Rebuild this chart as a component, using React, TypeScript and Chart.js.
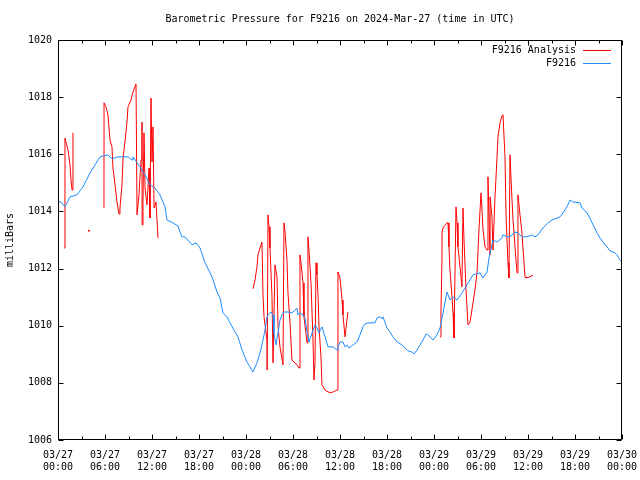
import React, { useEffect, useRef } from 'react';
import { Chart, registerables } from 'chart.js';

Chart.register(...registerables);

const TITLE = 'Barometric Pressure for F9216 on 2024-Mar-27 (time in UTC)';
const Y_TITLE = 'milliBars';
const ANALYSIS_LABEL = 'F9216 Analysis';
const STATION_LABEL = 'F9216';

// x tick labels, one per 6 hours from 03/27 00:00 UTC
const X_TICK_LABELS: string[][] = [
  ['03/27', '00:00'], ['03/27', '06:00'], ['03/27', '12:00'], ['03/27', '18:00'],
  ['03/28', '00:00'], ['03/28', '06:00'], ['03/28', '12:00'], ['03/28', '18:00'],
  ['03/29', '00:00'], ['03/29', '06:00'], ['03/29', '12:00'], ['03/29', '18:00'],
  ['03/30', '00:00'],
];
const X_MAX_HOURS = 72;
const Y_MIN = 1006;
const Y_MAX = 1020;
const Y_STEP = 2;

// Station F9216 observations: hours since 03/27 00:00 UTC, pressure (mb)
const stationHours = [
  0.00, 0.38, 0.89, 1.53, 2.43, 3.19, 4.09, 5.36, 6.38, 6.89, 7.66, 8.94, 9.45, 9.57,
  10.47, 11.11, 11.74, 12.38, 13.02, 13.66, 13.91, 14.68, 15.32, 15.57, 15.83, 16.21,
  17.11, 17.62, 18.13, 18.77, 19.66, 20.30, 20.68, 21.06, 21.57, 21.96, 22.60, 22.98,
  23.49, 24.13, 24.51, 24.89, 25.40, 25.79, 26.17, 26.43, 26.68, 26.81, 27.19, 27.45,
  27.57, 27.83, 28.09, 28.34, 28.60, 28.85, 29.36, 29.87, 30.26, 30.51, 30.64, 30.89,
  31.28, 31.53, 31.79, 32.04, 32.43, 32.81, 33.06, 33.32, 33.70, 33.83, 34.21, 34.47,
  35.11, 35.62, 35.74, 36.00, 36.38, 36.64, 36.89, 37.15, 37.66, 38.17, 38.55, 38.94,
  39.19, 39.57, 40.47, 40.72, 41.11, 41.36, 41.49, 42.00, 42.38, 42.77, 43.28, 43.91,
  44.30, 44.68, 45.19, 45.45, 45.83, 46.21, 46.60, 46.98, 47.23, 47.62, 47.87, 48.38,
  48.77, 49.15, 49.66, 50.04, 50.43, 50.94, 51.57, 52.21, 52.98, 53.87, 54.26, 54.77,
  55.02, 55.53, 56.04, 56.68, 56.81, 57.32, 57.70, 58.34, 58.72, 59.23, 59.87, 60.51,
  60.89, 61.28, 61.91, 62.55, 63.06, 64.09, 64.47, 64.98, 65.36, 65.74, 66.64, 66.89,
  67.53, 67.91, 68.30, 68.81, 69.19, 69.57, 70.09, 70.47, 71.11, 71.36, 71.74, 72.00,
];
const stationPressure = [
  1014.35, 1014.33, 1014.16, 1014.51, 1014.58, 1014.86, 1015.35, 1015.91, 1015.98, 1015.84, 1015.91, 1015.91, 1015.80, 1015.91,
  1015.56, 1015.28, 1014.93, 1014.82, 1014.58, 1014.16, 1013.70, 1013.60, 1013.49, 1013.28, 1013.11, 1013.11,
  1012.83, 1012.90, 1012.72, 1012.20, 1011.71, 1011.18, 1010.97, 1010.45, 1010.31, 1010.10, 1009.78, 1009.61,
  1009.15, 1008.73, 1008.56, 1008.38, 1008.70, 1009.05, 1009.50, 1009.85, 1010.31, 1010.38, 1010.48, 1010.38,
  1009.75, 1009.33, 1009.75, 1010.20, 1010.38, 1010.48, 1010.48, 1010.45, 1010.55, 1010.62, 1010.38, 1010.45,
  1010.38, 1010.27, 1009.78, 1009.43, 1009.75, 1010.03, 1009.92, 1009.75, 1009.96, 1009.85, 1009.50, 1009.26,
  1009.26, 1009.15, 1009.26, 1009.43, 1009.43, 1009.26, 1009.33, 1009.22, 1009.33, 1009.43, 1009.68, 1009.96,
  1010.06, 1010.10, 1010.10, 1010.27, 1010.31, 1010.24, 1010.31, 1009.92, 1009.78, 1009.61, 1009.43, 1009.33,
  1009.22, 1009.12, 1009.08, 1009.01, 1009.15, 1009.33, 1009.50, 1009.71, 1009.68, 1009.57, 1009.50, 1009.68,
  1009.92, 1010.45, 1011.18, 1010.90, 1011.01, 1010.90, 1011.15, 1011.43, 1011.78, 1011.85, 1011.67, 1011.88,
  1012.37, 1013.00, 1012.93, 1013.07, 1013.18, 1013.11, 1013.11, 1013.28, 1013.25, 1013.11, 1013.11, 1013.18,
  1013.11, 1013.18, 1013.42, 1013.60, 1013.70, 1013.81, 1013.95, 1014.16, 1014.40, 1014.33, 1014.30, 1014.12,
  1013.95, 1013.77, 1013.53, 1013.25, 1013.07, 1012.93, 1012.76, 1012.62, 1012.55, 1012.48, 1012.30, 1012.23,
];

// F9216 Analysis: hours since 03/27 00:00 UTC, pressure (mb); null = no data (gap)
const analysisHours = [
  0.77, 0.89, 1.02, 1.28, 1.53, 1.66, 1.79, 1.91,
  2.50,
  3.96,
  4.50,
  5.87, 5.88, 6.13, 6.38, 6.64, 6.89, 7.02, 7.28, 7.53, 7.79, 7.91, 8.17, 8.30, 8.55,
  8.81, 8.94, 9.32, 9.57, 9.96, 10.09, 10.34, 10.60, 10.72, 10.74, 10.85, 10.98, 11.11,
  11.36, 11.62, 11.74, 11.87, 12.00, 12.13, 12.26, 12.51, 12.77,
  18.00,
  24.89, 25.15, 25.40, 25.53, 25.79, 26.04, 26.17, 26.30, 26.68, 26.70, 26.81, 26.94,
  27.06, 27.32, 27.45, 27.70, 27.96, 28.09, 28.34, 28.72, 28.85, 28.98, 29.23, 29.36,
  29.62, 29.87, 30.51, 30.77, 30.89, 31.02, 31.28, 31.40, 31.79, 31.91, 32.04, 32.30,
  32.55, 32.68, 32.81, 32.94, 33.06, 33.19, 33.32, 33.57, 33.70, 34.09, 34.72, 35.11,
  35.62, 35.74, 36.00, 36.26, 36.38, 36.64, 36.89, 37.02,
  42.00,
  48.77, 48.89, 49.02, 49.03, 49.15, 49.66, 49.79, 49.91, 50.04, 50.30, 50.43, 50.55,
  50.81, 50.94, 51.06, 51.32, 51.57, 51.70, 51.83, 52.09, 52.34, 52.60, 53.23, 53.49,
  53.74, 54.00, 54.13, 54.26, 54.51, 54.77, 54.89, 55.15, 55.16, 55.40, 55.53, 55.79,
  56.04, 56.17, 56.43, 56.68, 56.81, 57.06, 57.19, 57.32, 57.45, 57.57, 57.70, 57.96,
  58.09, 58.47, 58.60, 58.72, 58.98, 59.23, 59.36, 59.62, 59.74, 60.26, 60.64,
];
const analysisPressure: (number | null)[] = [
  1012.72, 1016.57, 1016.43, 1016.15, 1015.63, 1015.10, 1014.75, 1016.75,
  null,
  1013.32,
  null,
  1014.12, 1017.80, 1017.66, 1017.38, 1016.50, 1016.26, 1015.52, 1014.93, 1014.33, 1013.91, 1014.12, 1014.93, 1015.87, 1016.43,
  1017.13, 1017.66, 1017.90, 1018.18, 1018.46, 1013.88, 1014.58, 1015.80, 1017.13, 1013.53, 1014.40, 1016.75, 1014.82,
  1014.23, 1015.52, 1013.77, 1017.97, 1015.73, 1016.96, 1014.12, 1014.33, 1013.07,
  null,
  1011.29, 1011.60, 1012.06, 1012.48, 1012.72, 1012.93, 1011.08, 1010.31, 1009.50, 1008.45, 1013.88, 1013.46,
  1012.72, 1011.01, 1008.70, 1012.13, 1011.71, 1009.96, 1009.26, 1008.63, 1013.60, 1013.28, 1012.30, 1011.15,
  1010.10, 1008.80, 1008.63, 1008.52, 1012.48, 1012.20, 1011.50, 1010.31, 1009.40, 1013.11, 1012.65, 1011.50,
  1009.50, 1008.10, 1008.70, 1012.20, 1011.78, 1011.08, 1009.96, 1008.91, 1007.93, 1007.75, 1007.65, 1007.68,
  1007.75, 1011.88, 1011.67, 1010.90, 1010.38, 1009.61, 1010.20, 1010.48,
  null,
  1009.61, 1010.55, 1012.37, 1013.28, 1013.42, 1013.60, 1013.60, 1012.76, 1011.95, 1011.01, 1010.45, 1009.57,
  1014.16, 1013.60, 1012.76, 1012.06, 1011.36, 1014.12, 1013.00, 1011.25, 1010.03, 1010.13, 1011.25, 1011.85,
  1013.35, 1014.65, 1014.05, 1013.35, 1012.76, 1012.65, 1015.21, 1012.48, 1014.51, 1013.81, 1012.65, 1014.51,
  1015.87, 1016.61, 1017.10, 1017.34, 1017.38, 1015.91, 1013.95, 1013.00, 1012.20, 1011.67, 1015.98, 1014.40,
  1013.70, 1012.30, 1011.85, 1014.58, 1013.88, 1013.25, 1012.72, 1011.71, 1011.67, 1011.71, 1011.78,
];

const ANALYSIS_COLOR = '#ff0000';
const STATION_COLOR = '#1a8cff';
const FONT_FAMILY = "'DejaVu Sans Mono', 'Liberation Mono', monospace";

const frameAndTicks = {
  id: 'frameAndTicks',
  afterDatasetsDraw(chart: any) {
    const { ctx, chartArea: a, scales } = chart;
    const xs = scales.x;
    const ys = scales.y;
    ctx.save();
    ctx.strokeStyle = '#000';
    ctx.lineWidth = 1;
    ctx.beginPath();
    const L = Math.round(a.left) + 0.5;
    const R = Math.round(a.right) - 0.5;
    const T = Math.round(a.top) + 0.5;
    const B = Math.round(a.bottom) - 0.5;
    ctx.rect(L, T, R - L, B - T);
    xs.ticks.forEach((t: any) => {
      const v = Math.round(t.value);
      const len = v % 6 === 0 ? 5 : 3;
      const px = Math.round(xs.getPixelForValue(t.value)) + 0.5;
      ctx.moveTo(px, B); ctx.lineTo(px, B - len);
      ctx.moveTo(px, T); ctx.lineTo(px, T + len);
    });
    ys.ticks.forEach((t: any) => {
      const py = Math.round(ys.getPixelForValue(t.value)) + 0.5;
      ctx.moveTo(L, py); ctx.lineTo(L + 5, py);
      ctx.moveTo(R, py); ctx.lineTo(R - 5, py);
    });
    ctx.stroke();
    ctx.restore();
  },
};

const keyPlugin = {
  id: 'gnuKey',
  afterDraw(chart: any) {
    const { ctx, chartArea: a } = chart;
    const items = [
      { label: ANALYSIS_LABEL, color: ANALYSIS_COLOR },
      { label: STATION_LABEL, color: STATION_COLOR },
    ];
    ctx.save();
    ctx.font = `10px ${FONT_FAMILY}`;
    ctx.textAlign = 'right';
    ctx.textBaseline = 'middle';
    items.forEach((it, i) => {
      const y = a.top + 10 + i * 13;
      ctx.fillStyle = '#000';
      ctx.fillText(it.label, a.right - 46, y);
      ctx.strokeStyle = it.color;
      ctx.lineWidth = 1;
      ctx.beginPath();
      ctx.moveTo(a.right - 39, Math.round(y) + 0.5);
      ctx.lineTo(a.right - 11, Math.round(y) + 0.5);
      ctx.stroke();
    });
    ctx.restore();
  },
};

export default function App() {
  const canvasRef = useRef<HTMLCanvasElement | null>(null);

  useEffect(() => {
    const canvas = canvasRef.current;
    if (!canvas) return;
    const stationData = stationHours.map((h, i) => ({ x: h, y: stationPressure[i] }));
    const analysisData = analysisHours.map((h, i) => ({ x: h, y: analysisPressure[i] }));

    const chart = new Chart(canvas, {
      type: 'line',
      data: {
        datasets: [
          {
            label: STATION_LABEL,
            data: stationData,
            borderColor: STATION_COLOR,
            backgroundColor: STATION_COLOR,
            borderWidth: 1,
            pointRadius: 0,
            tension: 0,
            order: 1,
          },
          {
            label: ANALYSIS_LABEL,
            data: analysisData as any,
            borderColor: ANALYSIS_COLOR,
            backgroundColor: ANALYSIS_COLOR,
            borderWidth: 1,
            tension: 0,
            spanGaps: false,
            order: 2,
            pointBorderWidth: 0,
            pointRadius: (c: any) => {
              const d = c.dataset.data;
              const i = c.dataIndex;
              const prev = d[i - 1];
              const next = d[i + 1];
              const isolated = d[i] && d[i].y != null && (!prev || prev.y == null) && (!next || next.y == null);
              return isolated ? 1 : 0;
            },
          },
        ],
      },
      options: {
        responsive: false,
        animation: false,
        layout: { padding: { left: 0, right: 18, top: 0, bottom: 0 } },
        plugins: {
          legend: { display: false },
          tooltip: { enabled: false },
          title: {
            display: true,
            text: TITLE,
            color: '#000',
            fullSize: false,
            font: { family: FONT_FAMILY, size: 10, weight: 'normal' },
            padding: { top: 13, bottom: 15 },
          },
        },
        scales: {
          x: {
            type: 'linear',
            min: 0,
            max: X_MAX_HOURS,
            grid: { display: false, drawTicks: false },
            border: { display: false },
            ticks: {
              stepSize: 3,
              autoSkip: false,
              maxRotation: 0,
              padding: 9,
              color: '#000',
              font: { family: FONT_FAMILY, size: 10 },
              callback: (value: any) => {
                const v = Math.round(Number(value));
                return v % 6 === 0 ? X_TICK_LABELS[v / 6] : '';
              },
            },
            afterFit: (scale: any) => {
              scale.height = 40;
              scale.paddingLeft = 0;
              scale.paddingRight = 0;
            },
          },
          y: {
            type: 'linear',
            min: Y_MIN,
            max: Y_MAX,
            grid: { display: false, drawTicks: false },
            border: { display: false },
            ticks: {
              stepSize: Y_STEP,
              padding: 6,
              color: '#000',
              font: { family: FONT_FAMILY, size: 10 },
              callback: (value: any) => String(Math.round(Number(value))),
            },
            title: {
              display: true,
              text: Y_TITLE,
              color: '#000',
              font: { family: FONT_FAMILY, size: 10 },
              padding: { top: 4, bottom: 0 },
            },
            afterFit: (scale: any) => {
              scale.width = 58;
              scale.paddingTop = 0;
              scale.paddingBottom = 0;
            },
          },
        },
      },
      plugins: [frameAndTicks, keyPlugin],
    });
    return () => chart.destroy();
  }, []);

  return (
    <div style={{ position: 'fixed', left: 0, top: 0, width: 640, height: 480, background: '#fff' }}>
      <canvas ref={canvasRef} width={640} height={480} />
    </div>
  );
}
